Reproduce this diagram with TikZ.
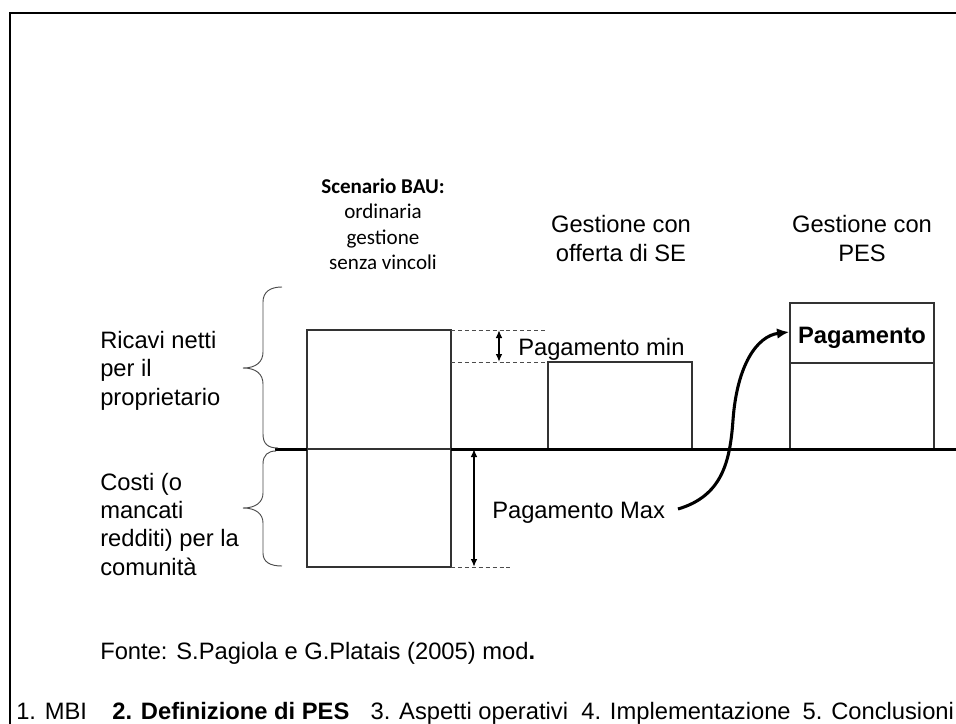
\documentclass[tikz,border=0pt]{standalone}
\usepackage{fontspec}
\setmainfont{Liberation Sans}
\newfontfamily\calib{Carlito}
\usetikzlibrary{arrows.meta}
\begin{document}
\begin{tikzpicture}[x=0.75pt,y=-0.75pt,
  lbl/.style={inner sep=0pt,font=\fontsize{17.8}{21.4}\selectfont},
  bau/.style={inner sep=0pt,font=\calib\fontsize{15.8}{19.2}\selectfont},
  boxline/.style={draw=black!80,line width=0.8pt},
  guideline/.style={draw=black!70,line width=0.7pt,dash pattern=on 3pt off 2.2pt},
  bracestyle/.style={draw=black!70,line width=0.7pt},
  axisline/.style={line width=2.3pt},
  dimarrow/.style={line width=1.3pt,{Latex[length=6pt,width=5pt]}-{Latex[length=6pt,width=5pt]}},
  curvearrow/.style={line width=2.3pt,-{Latex[length=9pt,width=8pt]}}]
\useasboundingbox (0,0) rectangle (956,724);
\fill[white] (0,0) rectangle (956,724);
% frame
\draw[line width=1.6pt] (10,730) -- (10,13) -- (962,13);
% boxes
\draw[boxline] (307,330) rectangle (451,567);
\draw[boxline] (307,449) -- (451,449);
\draw[boxline] (548,449) -- (548,362) -- (692,362) -- (692,449);
\draw[boxline] (790,449) -- (790,303) -- (934,303) -- (934,449);
\draw[boxline] (790,363) -- (934,363);
% axis
\coordinate (axL) at (275,449.5);
\coordinate (bauL) at (307,449.5);
\coordinate (bauR) at (451,449.5);
\coordinate (axR) at (962,449.5);
\draw[axisline] (axL) -- (bauL);
\draw[axisline] (bauR) -- (axR);
% dashed guides
\coordinate (d1a) at (451,330); \coordinate (d1b) at (548,330);
\coordinate (d2a) at (451,362); \coordinate (d2b) at (548,362);
\coordinate (d3a) at (451,567); \coordinate (d3b) at (512,567);
\draw[guideline] (d1a) -- (d1b);
\draw[guideline] (d2a) -- (d2b);
\draw[guideline] (d3a) -- (d3b);
% dimension arrows
\coordinate (mnT) at (499,330); \coordinate (mnB) at (499,362);
\coordinate (mxT) at (474,449); \coordinate (mxB) at (474,567);
\draw[dimarrow] (mnT) -- (mnB);
\draw[dimarrow] (mxT) -- (mxB);
% braces
\draw[bracestyle] (282,287) .. controls (270,287) and (263,292) .. (263,302) -- (263,352)
  .. controls (263,362) and (256,368) .. (243,368)
  .. controls (256,368) and (263,374) .. (263,384) -- (263,434)
  .. controls (263,444) and (268,448) .. (278,448);
\draw[bracestyle] (276,451) .. controls (268,451) and (263,455) .. (263,464) -- (263,493)
  .. controls (263,502) and (256,508) .. (243,508)
  .. controls (256,508) and (263,514) .. (263,523) -- (263,553)
  .. controls (263,562) and (270,566) .. (282,566);
% left labels
\node[lbl,anchor=base west] (r1) at (100,348) {Ricavi netti};
\node[lbl,anchor=base west] (r2) at (100,376.5) {per il};
\node[lbl,anchor=base west] (r3) at (100,405) {proprietario};
\node[lbl,anchor=base west] (c1) at (100,490) {Costi (o};
\node[lbl,anchor=base west] (c2) at (100,518) {mancati};
\node[lbl,anchor=base west] (c3) at (100,546.5) {redditi) per la};
\node[lbl,anchor=base west] (c4) at (100,575) {comunità};
% BAU title
\node[bau,anchor=base] (b1) at (383,193) {\bfseries Scenario BAU:};
\node[bau,anchor=base] (b2) at (383,218.6) {ordinaria};
\node[bau,anchor=base] (b3) at (383,244.2) {gestione};
\node[bau,anchor=base] (b4) at (383,269.8) {senza vincoli};
% column titles
\node[lbl,anchor=base] (s1) at (621,232.5) {Gestione con};
\node[lbl,anchor=base] (s2) at (621,261) {offerta di SE};
\node[lbl,anchor=base] (p1) at (862,232.5) {Gestione con};
\node[lbl,anchor=base] (p2) at (862,261) {PES};
% payment labels
\node[lbl,anchor=base west] (pmin) at (518,355) {Pagamento min};
\node[lbl,anchor=base west] (pmax) at (492,518) {Pagamento Max};
\node[lbl,anchor=base] (pag) at (862,343) {\bfseries Pagamento};
% curved arrow
\coordinate (cs) at (678,509);
\coordinate (ce) at (789,332);
\draw[curvearrow] (cs) .. controls (722,496) and (730,462) .. (733,420)
  .. controls (737,365) and (757,336) .. (ce);
% source and nav
\node[lbl,anchor=base west] (src) at (100,659) {Fonte: S.Pagiola e G.Platais (2005) mod\textbf{.}};
\node[lbl,anchor=base west] (nav) at (16,719) {1. MBI\hspace{19pt}\textbf{2. Definizione di PES}\hspace{16pt}3. Aspetti operativi\hspace{10pt}4. Implementazione\hspace{9pt}5. Conclusioni};
\end{tikzpicture}
\end{document}
